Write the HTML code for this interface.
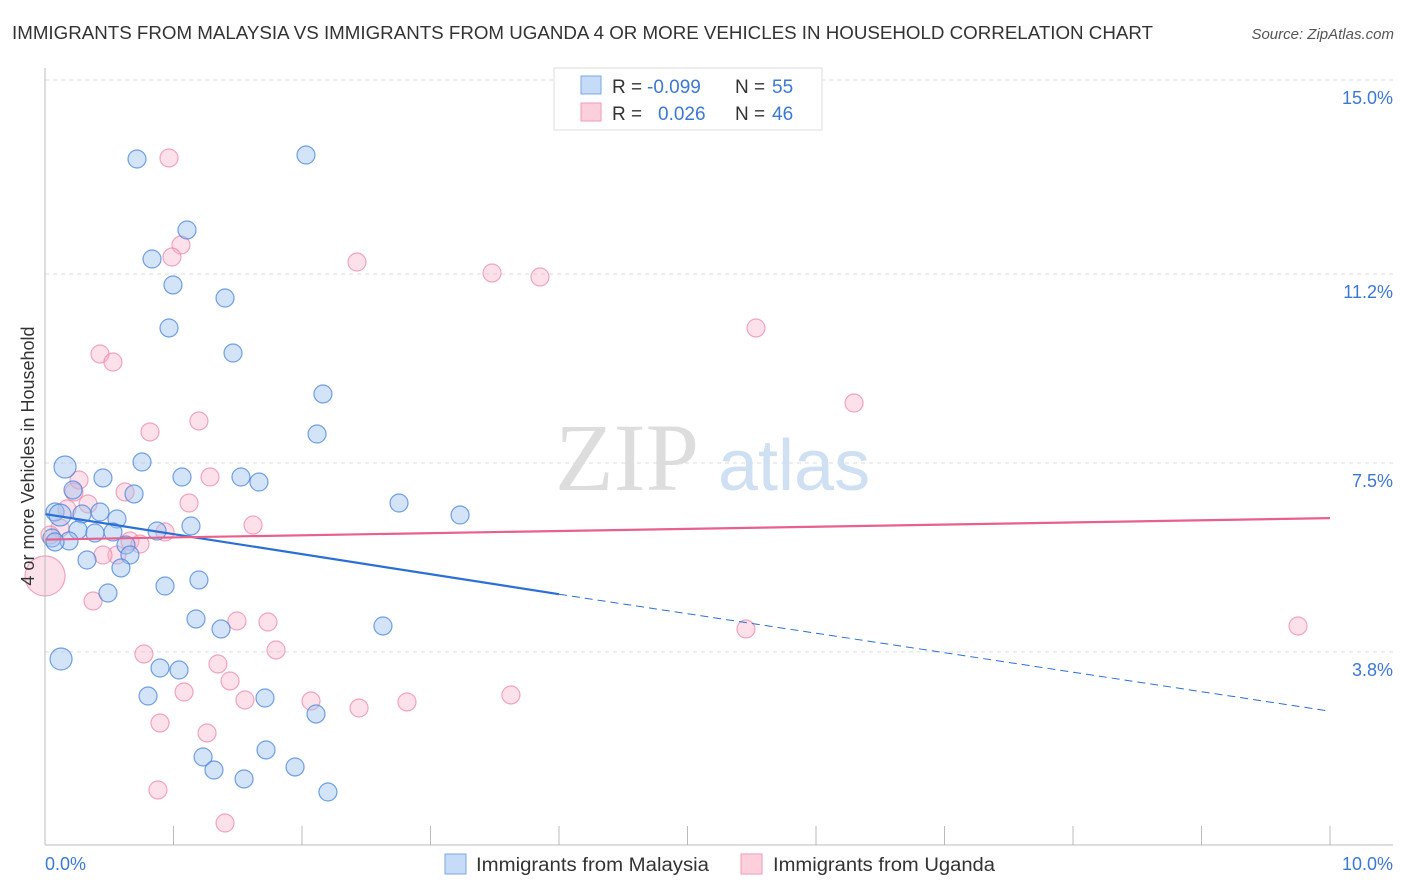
<!DOCTYPE html>
<html><head><meta charset="utf-8"><style>
body{margin:0;background:#fff;font-family:"Liberation Sans",sans-serif}
svg{display:block}
</style></head><body>
<svg width="1406" height="892" xmlns="http://www.w3.org/2000/svg">
<text x="12" y="39" font-size="18" fill="#333" textLength="1141" lengthAdjust="spacingAndGlyphs">IMMIGRANTS FROM MALAYSIA VS IMMIGRANTS FROM UGANDA 4 OR MORE VEHICLES IN HOUSEHOLD CORRELATION CHART</text>
<text x="1394" y="39" font-size="15" fill="#555" font-style="italic" text-anchor="end">Source: ZipAtlas.com</text>
<g id="grid"></g>
<text x="555" y="490" font-size="96" fill="#ddd" font-family="Liberation Serif">ZIP</text>
<text x="718" y="490" font-size="72" fill="#cfe0f3">atlas</text>
<g id="pts"></g>
<g id="trend"></g>
<line x1="45" y1="68" x2="45" y2="845" stroke="#bbb"/>
<line x1="45" y1="845" x2="1393" y2="845" stroke="#bbb"/>
<text transform="translate(34,456) rotate(-90)" font-size="18" fill="#333" text-anchor="middle">4 or more Vehicles in Household</text>
<text x="45" y="870" font-size="18" fill="#3b78d4">0.0%</text>
<text x="1393" y="870" font-size="18" fill="#3b78d4" text-anchor="end">10.0%</text>
<g>
<rect x="554" y="68" width="268" height="62" fill="#fff" stroke="#ddd"/>
<rect x="581" y="76" width="20" height="18" fill="#c6dbf7" stroke="#7aa7e6"/>
<rect x="581" y="103" width="20" height="18" fill="#fbd0dc" stroke="#f09ab3"/>
<text y="93" font-size="19" fill="#333"><tspan x="612">R =</tspan><tspan x="647" fill="#3b78d4">-0.099</tspan><tspan x="735">N =</tspan><tspan x="772" fill="#3b78d4">55</tspan></text>
<text y="120" font-size="19" fill="#333"><tspan x="612">R =</tspan><tspan x="658" fill="#3b78d4">0.026</tspan><tspan x="735">N =</tspan><tspan x="772" fill="#3b78d4">46</tspan></text>
</g>
<g>
<rect x="445" y="854" width="21" height="20" fill="#c6dbf7" stroke="#7aa7e6"/>
<text x="476" y="871" font-size="19" fill="#333" textLength="233" lengthAdjust="spacingAndGlyphs">Immigrants from Malaysia</text>
<rect x="741" y="854" width="21" height="20" fill="#fbd0dc" stroke="#f09ab3"/>
<text x="773" y="871" font-size="19" fill="#333" textLength="222" lengthAdjust="spacingAndGlyphs">Immigrants from Uganda</text>
</g>
</svg>
<script>
const yTicks=[3.8,7.5,11.2,15.0];
const xTickVals=[0,1,2,3,4,5,6,7,8,9,10];
const bluePx=[[137,159],[306,155],[187,230],[152,259],[173,285],[225,298],[169,328],[233,353],[323,394],[317,434],[142,462],[65,467],[103,478],[182,477],[241,477],[259,482],[73,490],[134,494],[399,503],[460,515],[55,512],[82,514],[100,512],[117,519],[78,530],[95,533],[113,532],[157,531],[191,526],[52,538],[69,541],[126,545],[130,555],[87,560],[121,568],[165,586],[199,580],[108,593],[196,619],[221,629],[383,626],[61,659],[160,668],[179,670],[148,696],[265,698],[316,714],[203,757],[266,750],[214,770],[295,767],[244,779],[328,792],[60,515],[55,542]];
const pinkPx=[[169,158],[181,245],[172,257],[357,262],[492,273],[540,277],[756,328],[100,354],[113,362],[854,403],[199,421],[150,432],[79,480],[210,477],[74,492],[125,492],[88,504],[189,503],[67,509],[253,525],[60,528],[165,532],[130,541],[50,535],[117,555],[103,555],[140,544],[45,576],[93,601],[237,621],[268,622],[746,629],[1298,626],[144,654],[276,650],[218,664],[230,681],[184,692],[311,701],[407,702],[511,695],[245,700],[359,708],[160,723],[207,733],[158,790],[225,823]];
const blueX=bluePx.map(p=>+((p[0]-45)/128.5).toFixed(3)), blueY=bluePx.map(p=>+((846-p[1])/51.07).toFixed(3));
const pinkX=pinkPx.map(p=>+((p[0]-45)/128.5).toFixed(3)), pinkY=pinkPx.map(p=>+((846-p[1])/51.07).toFixed(3));
const blueTrend=[[0,6.5],[4,4.93],[10,2.64]];
const pinkTrend=[[0,6.0],[10,6.42]];
const xs=v=>45+v*128.5, ys=v=>846-v*51.07;
const NS="http://www.w3.org/2000/svg";
function mk(t,a,parent){const e=document.createElementNS(NS,t);for(const k in a)e.setAttribute(k,a[k]);document.getElementById(parent).appendChild(e);return e;}
yTicks.forEach(t=>{
 const l=mk('line',{x1:45,x2:1393,y1:ys(t),y2:ys(t),stroke:'#ddd','stroke-dasharray':'4,4'},'grid');
 
 
 const tx=mk('text',{x:1393,y:ys(t)+24,'font-size':18,fill:'#3b78d4','text-anchor':'end'},'grid');
 tx.textContent=t.toFixed(1)+'%';
 
 
});
xTickVals.forEach(t=>{
 const l=mk('line',{x1:xs(t),x2:xs(t),y1:826,y2:845,stroke:'#bbb'},'grid');
 
 
});
pinkX.forEach((x,i)=>{
 const c=mk('circle',{cx:xs(x),cy:ys(pinkY[i]),r:i==27?20:9,fill:'rgba(248,170,195,0.35)',stroke:'rgba(236,130,165,0.7)','stroke-width':1.2},'pts');
 
 
});
blueX.forEach((x,i)=>{
 const big=(i==11||i==41||i==53);
 const c=mk('circle',{cx:xs(x),cy:ys(blueY[i]),r:big?11:9,fill:'rgba(160,195,240,0.45)',stroke:'rgba(70,130,220,0.75)','stroke-width':1.2},'pts');
 
 
});
let b=mk('line',{x1:xs(blueTrend[0][0]),y1:ys(blueTrend[0][1]),x2:xs(blueTrend[1][0]),y2:ys(blueTrend[1][1]),stroke:'#2a6fd6','stroke-width':2.2},'trend');


let bd=mk('line',{x1:xs(blueTrend[1][0]),y1:ys(blueTrend[1][1]),x2:xs(blueTrend[2][0]),y2:ys(blueTrend[2][1]),stroke:'#2a6fd6','stroke-width':1,'stroke-dasharray':'8,5'},'trend');


let p=mk('line',{x1:xs(pinkTrend[0][0]),y1:ys(pinkTrend[0][1]),x2:xs(pinkTrend[1][0]),y2:ys(pinkTrend[1][1]),stroke:'#e8608c','stroke-width':2.2},'trend');


</script>
</body></html>
